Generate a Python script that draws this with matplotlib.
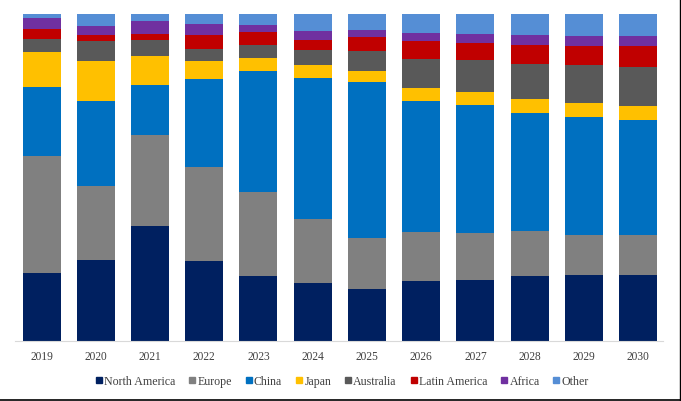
import numpy as np
import matplotlib
matplotlib.use("Agg")
import matplotlib.pyplot as plt
from matplotlib.lines import Line2D

# Share of each region per year (%)
years = ['2019', '2020', '2021', '2022', '2023', '2024',
         '2025', '2026', '2027', '2028', '2029', '2030']
regions = ['North America', 'Europe', 'China', 'Japan',
           'Australia', 'Latin America', 'Africa', 'Other']

north_america = [20.9, 24.7, 35.1, 24.5, 19.8, 17.8, 16.0, 18.2, 18.8, 20.0, 20.2, 20.2]
europe        = [35.6, 22.8, 28.0, 28.8, 25.7, 19.4, 15.6, 15.1, 14.2, 13.6, 12.3, 12.3]
china         = [21.2, 25.9, 15.3, 26.8, 37.2, 43.2, 47.7, 40.0, 39.1, 36.2, 36.0, 35.1]
japan         = [10.6, 12.2,  8.9,  5.4,  3.8,  4.0,  3.3,  4.0,  4.0,  4.2,  4.4,  4.2]
australia     = [ 4.1,  6.2,  4.7,  3.8,  3.9,  4.5,  6.0,  9.0,  9.7, 10.8, 11.5, 12.1]
latin_america = [ 3.1,  1.8,  1.8,  4.4,  4.1,  3.1,  4.4,  5.3,  5.4,  5.7,  5.9,  6.2]
africa        = [ 3.3,  2.8,  4.1,  3.2,  2.0,  2.8,  2.2,  2.7,  2.8,  3.1,  3.0,  3.2]
other         = [ 1.4,  3.5,  2.2,  3.3,  3.5,  5.2,  4.9,  5.8,  6.0,  6.4,  6.7,  6.7]

colors = ['#002060', '#808080', '#0070C0', '#FFC000',
          '#595959', '#C00000', '#7030A0', '#558ED5']

series = [north_america, europe, china, japan, australia,
          latin_america, africa, other]

fig = plt.figure(figsize=(6.81, 4.02), dpi=100)
ax = fig.add_axes([0.022, 0.1493, 0.9516, 0.8134])

x = np.arange(len(years))
bottom = np.zeros(len(years))
for vals, c, name in zip(series, colors, regions):
    vals = np.array(vals, dtype=float)
    ax.bar(x, vals, 0.7, bottom=bottom, color=c, label=name)
    bottom += vals

ax.set_xlim(-0.49, 11.46)
ax.set_ylim(0, 100)
ax.set_xticks(x)
ax.set_xticklabels(years, fontfamily='Liberation Serif', fontsize=8.3, color='#404040')
ax.tick_params(axis='x', length=0, pad=6.5)
ax.set_yticks([])
for s in ['top', 'right', 'left']:
    ax.spines[s].set_visible(False)
ax.spines['bottom'].set_color('#D9D9D9')
ax.spines['bottom'].set_linewidth(0.8)

handles = [Line2D([], [], marker='s', linestyle='none', markersize=4.5,
                  markerfacecolor=c, markeredgecolor=c) for c in colors]
fig.legend(handles, regions, loc='center', bbox_to_anchor=(342 / 681, 1 - 382 / 402),
           ncol=8, frameon=False, handlelength=0.6, handletextpad=0.15,
           columnspacing=1.1, prop={'family': 'Liberation Serif', 'size': 8.6},
           labelcolor='#404040')

# thin frame lines along the bottom and right edges
fig.add_artist(Line2D([0, 1], [0.003, 0.003], transform=fig.transFigure,
                      color='black', linewidth=1.2))
fig.add_artist(Line2D([0.9985, 0.9985], [0, 1], transform=fig.transFigure,
                      color='black', linewidth=1.0))

fig.savefig('out.png', dpi=100)
